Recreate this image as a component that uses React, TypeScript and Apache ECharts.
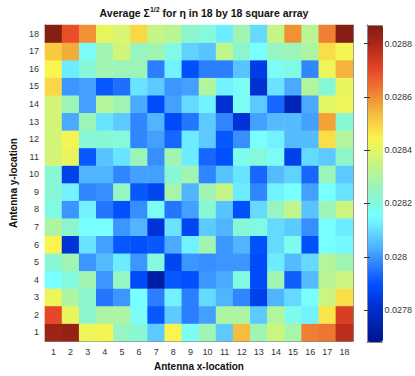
import React, { useEffect, useRef } from "react";
import * as echarts from "echarts";

const xCategories = ["1","2","3","4","5","6","7","8","9","10","11","12","13","14","15","16","17","18"];
const yCategories = ["1","2","3","4","5","6","7","8","9","10","11","12","13","14","15","16","17","18"];
const colorbarTicks = [0.0278, 0.028, 0.0282, 0.0284, 0.0286, 0.0288];
const colorMin = 0.02768;
const colorMax = 0.02887;

// values along x = 1..18 for each antenna row y
const row18 = [0.028858,0.028692,0.028596,0.028406,0.028382,0.028489,0.028346,0.028323,0.028227,0.028204,0.028120,0.028275,0.028097,0.028346,0.028596,0.028323,0.028620,0.028858];
const row17 = [0.028513,0.028561,0.028168,0.028275,0.028370,0.028251,0.028275,0.028192,0.028085,0.028061,0.028335,0.028227,0.028156,0.028251,0.028263,0.028299,0.028477,0.028430];
const row16 = [0.028442,0.028120,0.028216,0.028275,0.028263,0.028263,0.027966,0.028132,0.027894,0.027966,0.027966,0.028061,0.027847,0.028168,0.028192,0.027978,0.028418,0.028549];
const row15 = [0.028489,0.028001,0.028013,0.027906,0.027942,0.028108,0.028073,0.028001,0.028013,0.028311,0.028132,0.028168,0.027811,0.028108,0.028025,0.028311,0.028216,0.028406];
const row14 = [0.028370,0.028263,0.028013,0.028311,0.028275,0.028025,0.027882,0.028013,0.028097,0.028132,0.027811,0.028168,0.028073,0.027930,0.027763,0.028025,0.028394,0.028418];
const row13 = [0.028370,0.028025,0.028263,0.028108,0.028073,0.027978,0.028037,0.027882,0.027954,0.028073,0.027978,0.027823,0.028013,0.028049,0.028049,0.028013,0.028573,0.028216];
const row12 = [0.028370,0.028430,0.028216,0.028216,0.028204,0.027978,0.028013,0.027930,0.028120,0.028073,0.027906,0.027989,0.028156,0.028132,0.028049,0.028049,0.028477,0.028311];
const row11 = [0.028370,0.028406,0.027906,0.028061,0.028108,0.028263,0.027989,0.028275,0.028120,0.027930,0.027894,0.028180,0.028204,0.028168,0.027859,0.028097,0.028073,0.028239];
const row10 = [0.028216,0.027859,0.028037,0.028037,0.027978,0.028013,0.028013,0.028216,0.028275,0.027978,0.028061,0.028108,0.027930,0.028049,0.028085,0.027930,0.028263,0.028073];
const row9 = [0.028216,0.028132,0.027978,0.027989,0.028251,0.027906,0.027870,0.028287,0.028037,0.028275,0.028346,0.028120,0.027978,0.028132,0.028156,0.028013,0.028156,0.028108];
const row8 = [0.028192,0.028001,0.028132,0.027954,0.027894,0.027989,0.028168,0.027954,0.028013,0.028216,0.028061,0.027894,0.028097,0.028251,0.028335,0.028061,0.028263,0.028358];
const row7 = [0.028299,0.028227,0.028156,0.028156,0.028001,0.028037,0.027823,0.028108,0.027870,0.028073,0.028037,0.028216,0.028192,0.028097,0.028073,0.027989,0.028156,0.028120];
const row6 = [0.028442,0.027823,0.028108,0.028013,0.027906,0.027894,0.027906,0.028025,0.028132,0.028275,0.028001,0.028037,0.027894,0.028097,0.028180,0.027894,0.028156,0.028144];
const row5 = [0.028216,0.028275,0.028001,0.028049,0.028120,0.028001,0.028204,0.027870,0.028001,0.027989,0.028001,0.028001,0.027882,0.028120,0.028049,0.028097,0.028311,0.028275];
const row4 = [0.028156,0.028204,0.028275,0.028001,0.028251,0.027882,0.027728,0.027906,0.027894,0.028001,0.028025,0.028192,0.027882,0.028275,0.027918,0.028049,0.028323,0.028358];
const row3 = [0.028418,0.028299,0.028227,0.027954,0.028001,0.028156,0.027966,0.028132,0.027966,0.028097,0.028037,0.027978,0.027859,0.028037,0.028097,0.028156,0.028358,0.028477];
const row2 = [0.028703,0.028406,0.028227,0.028299,0.028299,0.028168,0.027906,0.028073,0.027966,0.028013,0.028299,0.028299,0.028073,0.028311,0.028180,0.028132,0.028465,0.028727];
const row1 = [0.028822,0.028834,0.028418,0.028430,0.028251,0.028216,0.028073,0.028442,0.028168,0.028275,0.028073,0.028537,0.028275,0.028358,0.028287,0.028620,0.028632,0.028775];

const rows = [row1,row2,row3,row4,row5,row6,row7,row8,row9,row10,row11,row12,row13,row14,row15,row16,row17,row18];

// colormap stops (style): position, r, g, b
const cmapStops: number[][] = [
  [0.00, 0, 20, 140],
  [0.04, 0, 30, 165],
  [0.12, 0, 50, 215],
  [0.18, 0, 80, 255],
  [0.22, 30, 110, 255],
  [0.27, 60, 150, 255],
  [0.30, 80, 180, 255],
  [0.34, 95, 210, 255],
  [0.37, 110, 235, 255],
  [0.40, 120, 255, 255],
  [0.43, 128, 250, 228],
  [0.46, 140, 245, 205],
  [0.50, 160, 245, 178],
  [0.54, 185, 245, 148],
  [0.58, 210, 245, 120],
  [0.61, 232, 245, 92],
  [0.64, 250, 245, 80],
  [0.68, 250, 215, 70],
  [0.72, 245, 188, 62],
  [0.77, 240, 145, 52],
  [0.80, 238, 118, 48],
  [0.86, 230, 70, 40],
  [0.93, 180, 42, 25],
  [1.00, 125, 28, 18],
];

function buildColors(n: number): string[] {
  const out: string[] = [];
  for (let i = 0; i < n; i++) {
    const t = i / (n - 1);
    let k = 0;
    while (k < cmapStops.length - 2 && t > cmapStops[k + 1][0]) k++;
    const a = cmapStops[k];
    const b = cmapStops[k + 1];
    const f = Math.min(1, Math.max(0, (t - a[0]) / (b[0] - a[0])));
    const c = [1, 2, 3].map((j) => Math.round(a[j] + (b[j] - a[j]) * f));
    out.push(`rgb(${c[0]},${c[1]},${c[2]})`);
  }
  return out;
}

const FONT = "Liberation Sans";

export default function App() {
  const ref = useRef<HTMLDivElement>(null);
  useEffect(() => {
    document.body.style.margin = "0";
    if (!ref.current) return;
    const chart = echarts.init(ref.current, null, { renderer: "svg" });
    const data: number[][] = [];
    rows.forEach((r, yi) => r.forEach((v, xi) => data.push([xi, yi, v])));

    const frame = { show: true, lineStyle: { color: "#8a8a8a", width: 1 } };
    const tickIn = { show: true, inside: true, length: 4, alignWithLabel: true, lineStyle: { color: "#333" } };
    const lbl = { fontFamily: FONT, fontSize: 9, color: "#333" };

    chart.setOption({
      animation: false,
      backgroundColor: "#fff",
      grid: [
        { left: 37, top: 25, width: 316, height: 317 },
        { left: 367, top: 25, width: 16, height: 317 },
      ],
      xAxis: [
        {
          type: "category", data: xCategories, gridIndex: 0, position: "bottom",
          axisLine: frame, axisTick: tickIn, axisLabel: { ...lbl, margin: 6 }, splitLine: { show: false },
          name: "Antenna x-location", nameLocation: "middle", nameGap: 18,
          nameTextStyle: { fontFamily: FONT, fontSize: 10, fontWeight: "bold", color: "#111" },
        },
        {
          type: "category", data: xCategories, gridIndex: 0, position: "top",
          axisLine: frame, axisTick: tickIn, axisLabel: { show: false }, splitLine: { show: false },
        },
        {
          type: "value", gridIndex: 1, position: "bottom", min: 0, max: 1, z: 10,
          axisLine: frame, axisTick: { show: false }, axisLabel: { show: false }, splitLine: { show: false },
        },
        {
          type: "value", gridIndex: 1, position: "top", min: 0, max: 1, z: 10,
          axisLine: frame, axisTick: { show: false }, axisLabel: { show: false }, splitLine: { show: false },
        },
      ],
      yAxis: [
        {
          type: "category", data: yCategories, gridIndex: 0, position: "left",
          axisLine: frame, axisTick: tickIn, axisLabel: { ...lbl, margin: 6 }, splitLine: { show: false },
          name: "Antenna y-location", nameLocation: "middle", nameGap: 19, nameRotate: 90,
          nameTextStyle: { fontFamily: FONT, fontSize: 10, fontWeight: "bold", color: "#111" },
        },
        {
          type: "category", data: yCategories, gridIndex: 0, position: "right",
          axisLine: frame, axisTick: tickIn, axisLabel: { show: false }, splitLine: { show: false },
        },
        {
          type: "value", gridIndex: 1, position: "right", min: colorMin, max: colorMax, z: 10,
          axisLine: frame,
          axisTick: { show: true, inside: true, length: 3, customValues: colorbarTicks, lineStyle: { color: "#333" } },
          axisLabel: { ...lbl, margin: 2, customValues: colorbarTicks, formatter: (v: number) => String(+v.toFixed(4)) },
          splitLine: { show: false },
        },
        {
          type: "value", gridIndex: 1, position: "left", min: colorMin, max: colorMax, z: 10,
          axisLine: frame,
          axisTick: { show: true, inside: true, length: 3, customValues: colorbarTicks, lineStyle: { color: "#333" } },
          axisLabel: { show: false },
          splitLine: { show: false },
        },
      ],
      visualMap: {
        type: "continuous",
        min: colorMin,
        max: colorMax,
        dimension: 2,
        seriesIndex: 0,
        calculable: false,
        show: true,
        left: 367,
        top: 25,
        itemWidth: 16,
        itemHeight: 317,
        padding: 0,
        text: ["", ""],
        inRange: { color: buildColors(161) },
      },
      graphic: [
        {
          type: "text",
          x: 204,
          y: 12,
          style: {
            text: "{a|Average Σ}{s|1/2}{a| for η in 18 by 18 square array}",
            align: "center",
            verticalAlign: "middle",
            rich: {
              a: { fontFamily: FONT, fontSize: 10.5, fontWeight: "bold", fill: "#111", lineHeight: 12, verticalAlign: "bottom" },
              s: { fontFamily: FONT, fontSize: 7, fontWeight: "bold", fill: "#111", lineHeight: 12, verticalAlign: "top" },
            },
          },
        },
      ],
      series: [
        {
          type: "heatmap",
          xAxisIndex: 0,
          yAxisIndex: 0,
          data,
          itemStyle: { borderWidth: 0 },
          emphasis: { disabled: true },
        },
      ],
    });
    return () => chart.dispose();
  }, []);
  return <div ref={ref} style={{ position: "absolute", left: 0, top: 0, width: 415, height: 376 }} />;
}
